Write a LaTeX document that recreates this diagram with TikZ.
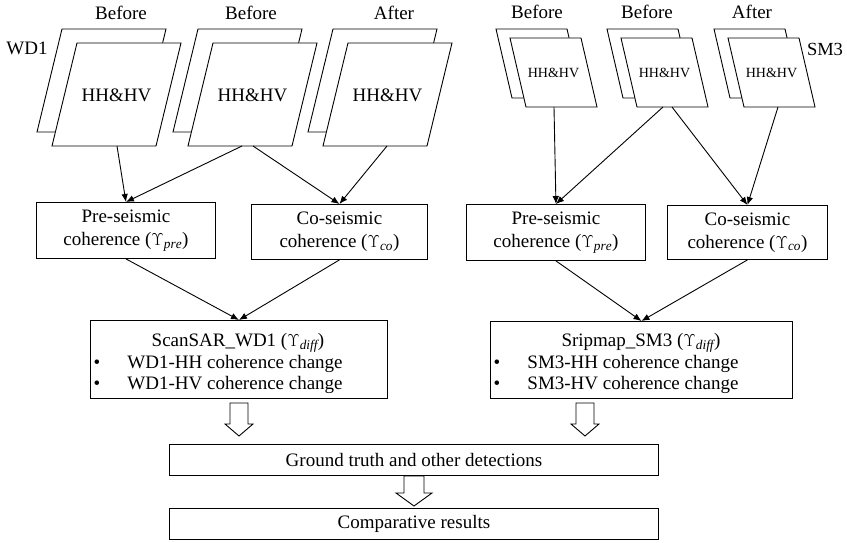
\documentclass[tikz,border=0pt]{standalone}
\usepackage{fontspec}
\setmainfont{Liberation Serif}
\usetikzlibrary{arrows.meta}
\newcommand\ups[1]{($\Upsilon_{\mathit{#1}}$)}
\begin{document}
\begin{tikzpicture}[x=1pt,y=-1pt,line width=0.9pt,
  txt/.style={font=\fontsize{19}{23}\selectfont, inner sep=0pt},
  box/.style={draw, anchor=north west, inner sep=0pt, align=center,
    font=\fontsize{19}{23}\selectfont},
  sheet/.style={draw, fill=white, line join=miter},
  conn/.style={-{Latex[length=8pt,width=6.5pt]}},
  hollow/.style={draw, fill=white, line join=miter}]
\useasboundingbox (0,0) rectangle (847,543);

% ---------- left stacks (WD1) ----------
\foreach \a/\n in {77/1,213/2,348/3}{
  \draw[sheet] (\a-15,43-14) -- ++(104,0) -- ++(-25,103) -- ++(-104,0) -- cycle;
  \draw[sheet] (\a,43) -- ++(104,0) -- ++(-25,103) -- ++(-104,0) -- cycle;
  \node[txt, font=\fontsize{19}{23}\selectfont] (lh\n) at (\a+39.5,95) {HH\&HV};
}
\node[txt] (lb1) at (121,13) {Before};
\node[txt] (lb2) at (251,13) {Before};
\node[txt] (la3) at (394,13) {After};
\node[txt] (wd) at (27,48) {WD1};

% ---------- right stacks (SM3) ----------
\foreach \b/\n in {510/1,621/2,728/3}{
  \draw[sheet] (\b-14,38-9) -- ++(71,0) -- ++(16,69) -- ++(-71,0) -- cycle;
  \draw[sheet] (\b,38) -- ++(71,0) -- ++(16,69) -- ++(-71,0) -- cycle;
  \node[txt, font=\fontsize{14}{16}\selectfont] (rh\n) at (\b+43.5,72.5) {HH\&HV};
}
\node[txt] (rb1) at (537,12) {Before};
\node[txt] (rb2) at (647,12) {Before};
\node[txt] (ra3) at (752,12) {After};
\node[txt, font=\fontsize{18.5}{22}\selectfont] (sm) at (825,49) {SM3};

% connector start points on the sheets
\coordinate (l1) at (117,146);
\coordinate (l2a) at (242,146);
\coordinate (l2b) at (253,146);
\coordinate (l3) at (387,146);
\coordinate (r1) at (554,107);
\coordinate (r2a) at (663,107);
\coordinate (r2b) at (672,107);
\coordinate (r3) at (778,107);

% ---------- coherence boxes ----------
\node[box, minimum width=179pt, minimum height=56pt] (lpre) at (36,202)
  {Pre-seismic\\coherence \ups{pre}};
\node[box, minimum width=176pt, minimum height=55pt] (lco) at (251,204)
  {Co-seismic\\coherence \ups{co}};
\node[box, minimum width=179pt, minimum height=56pt] (rpre) at (466,204)
  {Pre-seismic\\coherence \ups{pre}};
\node[box, minimum width=160pt, minimum height=54pt] (rco) at (667,205)
  {Co-seismic\\coherence \ups{co}};

% ---------- difference boxes ----------
\node[box, minimum width=297pt, minimum height=78pt] (lsd) at (90,320) {};
\node[txt, anchor=base] (lsdt) at (238,346) {ScanSAR\_WD1 \ups{diff}};
\node[txt, anchor=base] (lbu1) at (97,368) {•};
\node[txt, anchor=base] (lbu2) at (97,389) {•};
\node[txt, anchor=base west] (lbt1) at (127,368) {WD1-HH coherence change};
\node[txt, anchor=base west] (lbt2) at (127,389) {WD1-HV coherence change};

\node[box, minimum width=302pt, minimum height=77pt] (rsd) at (490,321) {};
\node[txt, anchor=base] (rsdt) at (641,346) {Sripmap\_SM3 \ups{diff}};
\node[txt, anchor=base] (rbu1) at (497,368) {•};
\node[txt, anchor=base] (rbu2) at (497,389) {•};
\node[txt, anchor=base west] (rbt1) at (527,368) {SM3-HH coherence change};
\node[txt, anchor=base west] (rbt2) at (527,389) {SM3-HV coherence change};

% ---------- bottom boxes ----------
\node[box, minimum width=489pt, minimum height=31pt] (gt) at (169,444)
  {Ground truth and other detections};
\node[box, minimum width=489pt, minimum height=31pt] (cr) at (169,508)
  {Comparative results};

% ---------- connectors ----------
\draw[conn] (l1) -- (lpre.north);
\draw[conn] (l2a) -- (lpre.north);
\draw[conn] (l2b) -- (lco.north);
\draw[conn] (l3) -- (lco.north);
\draw[conn] (r1) -- (rpre.north);
\draw[conn] (r2a) -- (rpre.north);
\draw[conn] (r2b) -- (rco.north);
\draw[conn] (r3) -- (rco.north);
\draw[conn] (lpre.south) -- (lsd.north);
\draw[conn] (lco.south) -- (lsd.north);
\draw[conn] (rpre.south) -- (rsd.north);
\draw[conn] (rco.south) -- (rsd.north);

% ---------- hollow arrows ----------
\draw[hollow] (230,403) -- (248,403) -- (248,424) -- (253,424) -- (239,436)
  -- (225,424) -- (230,424) -- cycle;
\draw[hollow] (576,403) -- (594,403) -- (594,424) -- (599,424) -- (585,436)
  -- (571,424) -- (576,424) -- cycle;
\draw[hollow] (404,476) -- (424,476) -- (424,493) -- (432,493) -- (414,506)
  -- (396,493) -- (404,493) -- cycle;
\end{tikzpicture}
\end{document}
